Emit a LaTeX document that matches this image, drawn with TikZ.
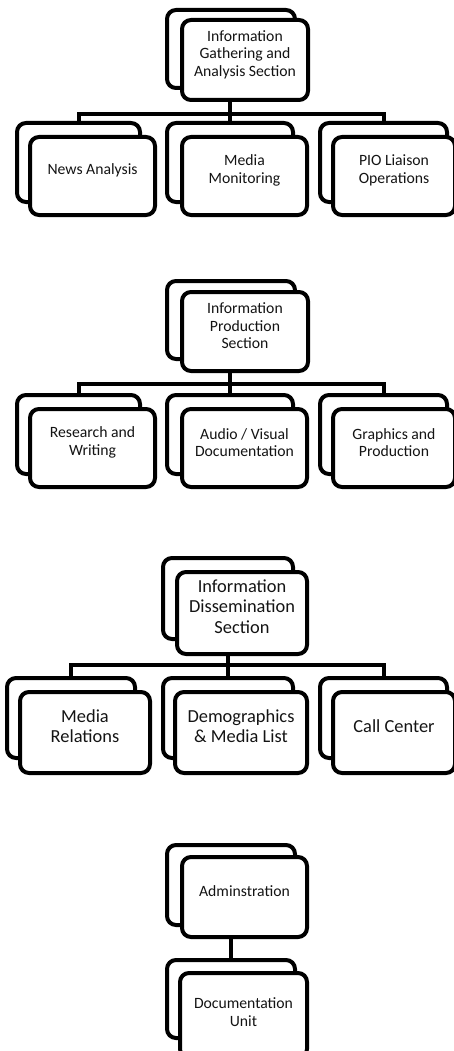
\documentclass[tikz,border=0pt]{standalone}
\usepackage{fontspec}
\setmainfont{Carlito}
\usetikzlibrary{fit}
\begin{document}
\begin{tikzpicture}[x=1pt,y=-1pt,
  box/.style={draw=black, line width=4pt, fill=white, rounded corners=9pt,
    rectangle, inner sep=0pt, outer sep=0pt, align=center, text=black!92},
  txt/.style={font=\fontsize{15.7}{17.5}\selectfont},
  bigtxt/.style={font=\fontsize{18.4}{20.5}\selectfont},
  conn/.style={draw=black, line width=4pt}]
\useasboundingbox (0,0) rectangle (454,1051);

% ---------- Information Gathering and Analysis Section ----------
\node[box, fit={(167,10) (295,88)}] (Ab) {};
\node[box, txt, fit={(182,20) (308,100)}] (Af) {Information\\Gathering and\\Analysis Section};
\node[box, fit={(17,123) (140,202)}] (A1b) {};
\node[box, txt, fit={(30,137) (155,215)}] (A1f) {News Analysis};
\node[box, fit={(167,123) (293,202)}] (A2b) {};
\node[box, txt, fit={(182,137) (307,215)}] (A2f) {Media\\Monitoring};
\node[box, fit={(320,123) (447,202)}] (A3b) {};
\node[box, txt, fit={(333,137) (455,215)}] (A3f) {PIO Liaison\\Operations};
\coordinate (barA) at (0,114);
\draw[conn] (A2b.north |- Af.south) -- (A2b.north);
\draw[conn] (A1b.north) -- (A1b.north |- barA) -- (A3b.north |- barA) -- (A3b.north);

% ---------- Information Production Section ----------
\node[box, fit={(167,281) (295,359)}] (Bb) {};
\node[box, txt, fit={(182,292) (308,371)}] (Bf) {Information\\Production\\Section};
\node[box, fit={(17,395) (140,474)}] (B1b) {};
\node[box, txt, fit={(30,409) (155,487)}] (B1f) {Research and\\Writing};
\node[box, fit={(167,395) (293,474)}] (B2b) {};
\node[box, txt, fit={(182,409) (307,487)}] (B2f) {Audio / Visual\\Documentation};
\node[box, fit={(320,395) (447,474)}] (B3b) {};
\node[box, txt, fit={(333,409) (455,487)}] (B3f) {Graphics and\\Production};
\coordinate (barB) at (0,384);
\draw[conn] (B2b.north |- Bf.south) -- (B2b.north);
\draw[conn] (B1b.north) -- (B1b.north |- barB) -- (B3b.north |- barB) -- (B3b.north);

% ---------- Information Dissemination Section ----------
\node[box, fit={(163,558) (293,639)}] (Cb) {};
\node[box, bigtxt, fit={(177,572) (307,654)}] (Cf) {Information\\Dissemination\\Section};
\node[box, fit={(7,678) (135,758)}] (C1b) {};
\node[box, bigtxt, fit={(20,692) (150,773)}] (C1f) {Media\\Relations};
\node[box, fit={(163,678) (293,758)}] (C2b) {};
\node[box, bigtxt, fit={(175,692) (307,773)}] (C2f) {Demographics\\\&~Media List};
\node[box, fit={(320,678) (447,758)}] (C3b) {};
\node[box, bigtxt, fit={(333,692) (455,773)}] (C3f) {Call Center};
\coordinate (barC) at (0,665);
\draw[conn] (C2b.north |- Cf.south) -- (C2b.north);
\draw[conn] (C1b.north) -- (C1b.north |- barC) -- (C3b.north |- barC) -- (C3b.north);

% ---------- Adminstration ----------
\node[box, fit={(167,845) (295,925)}] (Db) {};
\node[box, txt, fit={(182,857) (307,937)}] (Df) {Adminstration};
\node[box, fit={(167,960) (295,1038)}] (Eb) {};
\node[box, fit={(180,973) (307,1058)}] (Ef) {};
\node[txt, text=black!92, align=center] (Et) at (243.5,1012) {Documentation\\Unit};
\draw[conn] (Db.south |- Df.south) -- (Eb.north);
\end{tikzpicture}
\end{document}
